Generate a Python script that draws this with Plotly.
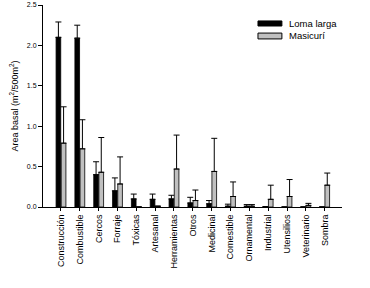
import plotly.graph_objects as go

categories = ["Construcción", "Combustible", "Cercos", "Forraje", "Tóxicas", "Artesanal",
              "Herramientas", "Otros", "Medicinal", "Comestible", "Ornamental", "Industrial",
              "Utensilios", "Veterinario", "Sombra"]

loma_larga = [2.10, 2.09, 0.40, 0.20, 0.10, 0.095, 0.10, 0.05, 0.04, 0.01, 0.01, 0.005, 0, 0, 0]
loma_larga_err = [0.19, 0.16, 0.16, 0.16, 0.06, 0.065, 0.045, 0.07, 0.04, 0.025, 0.02, 0, 0, 0, 0]

masicuri = [0.79, 0.72, 0.43, 0.285, 0, 0.01, 0.47, 0.08, 0.44, 0.13, 0.01, 0.095, 0.13, 0.02, 0.27]
masicuri_err = [0.45, 0.36, 0.43, 0.335, 0, 0, 0.42, 0.13, 0.41, 0.18, 0.02, 0.175, 0.21, 0.025, 0.15]

y_ticks = [0.0, 0.5, 1.0, 1.5, 2.0, 2.5]

FONT = "Liberation Sans, Arial, sans-serif"

fig = go.Figure()
fig.add_trace(go.Bar(
    x=categories, y=loma_larga, name="Loma larga",
    marker=dict(color="black", line=dict(color="black", width=0.8)),
    error_y=dict(type="data", array=loma_larga_err, arrayminus=[0] * len(categories),
                 symmetric=False, color="black", thickness=1, width=3),
    showlegend=False,
))
fig.add_trace(go.Bar(
    x=categories, y=masicuri, name="Masicurí",
    marker=dict(color="#c0c0c0", line=dict(color="black", width=0.8)),
    error_y=dict(type="data", array=masicuri_err, arrayminus=[0] * len(categories),
                 symmetric=False, color="black", thickness=1, width=3),
    showlegend=False,
))

# manual legend
fig.add_shape(type="rect", xref="paper", yref="paper", x0=0.719, x1=0.799, y0=0.896, y1=0.921,
              fillcolor="black", line=dict(color="black", width=1))
fig.add_shape(type="rect", xref="paper", yref="paper", x0=0.719, x1=0.799, y0=0.832, y1=0.861,
              fillcolor="#c0c0c0", line=dict(color="black", width=1))
fig.add_annotation(xref="paper", yref="paper", x=0.816, y=0.908, text="Loma larga", showarrow=False,
                   xanchor="left", yanchor="middle", font=dict(family=FONT, size=9.5, color="black"))
fig.add_annotation(xref="paper", yref="paper", x=0.816, y=0.847, text="Masicurí", showarrow=False,
                   xanchor="left", yanchor="middle", font=dict(family=FONT, size=9.5, color="black"))

fig.update_layout(
    width=370, height=288,
    margin=dict(l=43, r=28, t=5, b=81, pad=0, autoexpand=False),
    paper_bgcolor="white", plot_bgcolor="white",
    barmode="group", bargap=0.45, bargroupgap=0.1,
    font=dict(family=FONT, color="black"),
    xaxis=dict(
        range=[-0.955, 14.92], showline=True, linecolor="black", linewidth=1,
        ticks="outside", ticklen=3, tickcolor="black", tickwidth=1, automargin=False,
        tickangle=-90, tickfont=dict(size=9, family=FONT), showgrid=False, zeroline=False,
    ),
    yaxis=dict(
        range=[0, 2.5], tickvals=y_ticks, tickformat=".1f", showline=True, linecolor="black",
        linewidth=1, ticks="outside", ticklen=4, tickcolor="black", tickwidth=1, automargin=False,
        tickfont=dict(size=7, family=FONT), showgrid=False, zeroline=False,
        title=dict(text="Area basal (m<sup>2</sup>/500m<sup>2</sup>)", font=dict(size=9, family=FONT),
                   standoff=6),
    ),
)

fig.write_html("out.html", config={"displayModeBar": False},
               post_script="document.body.style.margin='0';")
